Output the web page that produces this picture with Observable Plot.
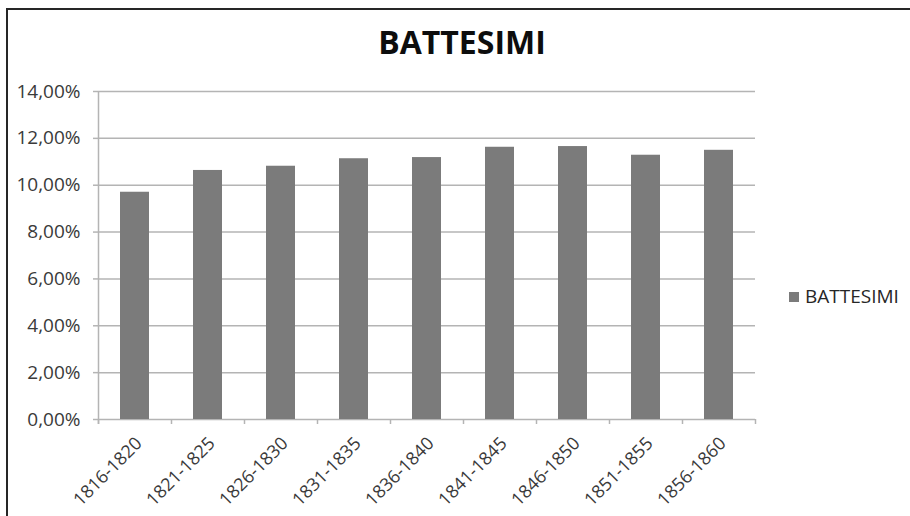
<!DOCTYPE html>
<html>
<head>
<meta charset="utf-8">
<script src="https://cdn.jsdelivr.net/npm/d3@7"></script>
<script src="https://cdn.jsdelivr.net/npm/@observablehq/plot@0.6"></script>
<style>
  html, body { margin: 0; padding: 0; background: #fff; }
  #chart { position: relative; width: 910px; height: 516px; overflow: hidden; font-family: "Open Sans", sans-serif; }
  #chart svg { position: absolute; left: 0; top: 0; }
  #frame { position: absolute; left: 6px; top: 8px; width: 920px; height: 530px; border-left: 2px solid #262626; border-top: 2px solid #262626; pointer-events: none; }
  #title { position: absolute; left: 0; width: 924px; top: 26px; text-align: center; font-weight: 700; font-size: 32px; line-height: 32px; color: #0d0d0d; }
  #legend { position: absolute; left: 789px; top: 287px; display: flex; align-items: center; font-size: 19px; line-height: 19px; color: #262626; }
  #legend .swatch { width: 10px; height: 10px; background: #7b7b7b; margin-right: 6px; }
</style>
</head>
<body>
<div id="chart">
  <div id="title">BATTESIMI</div>
  <div id="legend"><span class="swatch"></span><span>BATTESIMI</span></div>
  <div id="frame"></div>
</div>
<script>
// Five-year periods and the share of baptisms in each
const periods = ["1816-1820", "1821-1825", "1826-1830", "1831-1835", "1836-1840",
                 "1841-1845", "1846-1850", "1851-1855", "1856-1860"];
const battesimi = [0.0970, 0.1063, 0.1081, 0.1113, 0.1118, 0.1162, 0.1165, 0.1128, 0.1149];
const yTicks = [0, 0.02, 0.04, 0.06, 0.08, 0.10, 0.12, 0.14];

const W = 910, H = 516, ML = 98, MR = 155, MT = 91, MB = 97;
const step = (W - ML - MR) / periods.length;
const grid = "#b4b4b4";
const ink = "#3a3a3a";
const pct = d => (d * 100).toFixed(2).replace(".", ",") + "%";
const rows = periods.map((p, i) => ({period: p, value: battesimi[i]}));

const plot = Plot.plot({
  width: W,
  height: H,
  marginLeft: ML,
  marginRight: MR,
  marginTop: MT,
  marginBottom: MB,
  style: {fontFamily: "Open Sans, sans-serif", fontSize: "19px", background: "transparent", overflow: "visible"},
  x: {type: "band", domain: periods, paddingInner: 0.6, paddingOuter: 0.3, label: null},
  y: {domain: [0, 0.14], label: null},
  marks: [
    // horizontal gridlines
    Plot.ruleY(yTicks, {stroke: grid, strokeWidth: 1.5}),
    // bars
    Plot.barY(rows, {x: "period", y: "value", fill: "#7b7b7b"}),
    // vertical axis line, running a little below zero
    Plot.ruleX([periods[0]], {y1: 0.14, y2: 0, dx: -step / 2, insetBottom: -5, stroke: grid, strokeWidth: 1.5}),
    // category tick marks between the bands
    Plot.ruleX(periods, {y1: 0, y2: 0, dx: -step / 2, insetBottom: -5, stroke: grid, strokeWidth: 1.5}),
    Plot.ruleX([periods[periods.length - 1]], {y1: 0, y2: 0, dx: step / 2, insetBottom: -5, stroke: grid, strokeWidth: 1.5}),
    Plot.axisY({ticks: yTicks, tickFormat: pct, tickSize: 5, tickPadding: 13, stroke: grid, strokeWidth: 1.5, fill: ink, fontSize: 19}),
    Plot.axisX({tickSize: 0, tickRotate: -45, tickPadding: 21, dx: 4, fill: ink, fontSize: 18})
  ]
});

document.getElementById("chart").prepend(plot);
</script>
</body>
</html>
